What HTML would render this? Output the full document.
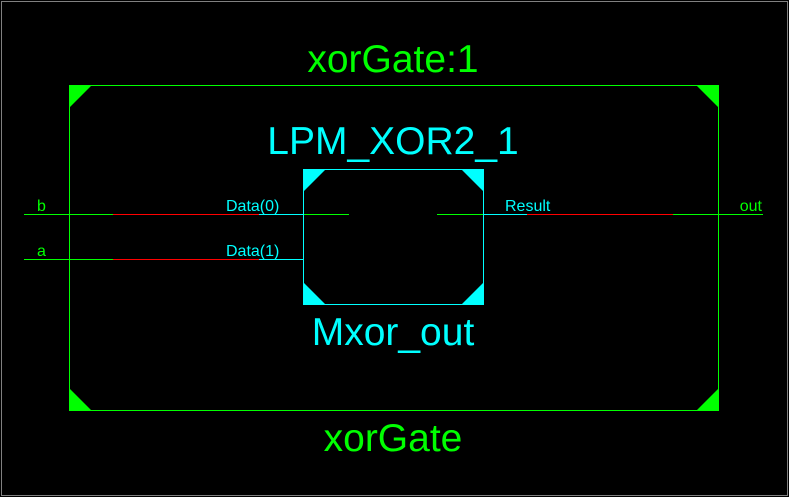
<!DOCTYPE html>
<html><head><meta charset="utf-8"><style>
html,body{margin:0;padding:0;background:#000;}
svg{display:block;}
text{font-family:"Liberation Sans",Arial,sans-serif;}
</style></head><body>
<svg width="789" height="497" viewBox="0 0 789 497" xmlns="http://www.w3.org/2000/svg">
<rect x="0" y="0" width="789" height="497" fill="#000"/>
<rect x="1.5" y="1.5" width="786" height="494" fill="none" stroke="#808080" stroke-width="1"/>
<rect x="69.5" y="85.5" width="649" height="325" fill="none" stroke="#00ff00" stroke-width="1"/>
<polygon points="69,85 92,85 69,108" fill="#00ff00"/>
<polygon points="719,85 696,85 719,108" fill="#00ff00"/>
<polygon points="69,411 92,411 69,388" fill="#00ff00"/>
<polygon points="719,411 696,411 719,388" fill="#00ff00"/>
<line x1="24" y1="214.5" x2="113" y2="214.5" stroke="#00ff00"/>
<line x1="113" y1="214.5" x2="259" y2="214.5" stroke="#ff0000"/>
<line x1="259" y1="214.5" x2="303" y2="214.5" stroke="#00ffff"/>
<line x1="303" y1="214.5" x2="349" y2="214.5" stroke="#00ff00"/>
<line x1="24" y1="259.5" x2="113" y2="259.5" stroke="#00ff00"/>
<line x1="113" y1="259.5" x2="259" y2="259.5" stroke="#ff0000"/>
<line x1="259" y1="259.5" x2="303" y2="259.5" stroke="#00ffff"/>
<line x1="437" y1="214.5" x2="483" y2="214.5" stroke="#00ff00"/>
<line x1="483" y1="214.5" x2="527" y2="214.5" stroke="#00ffff"/>
<line x1="527" y1="214.5" x2="673" y2="214.5" stroke="#ff0000"/>
<line x1="673" y1="214.5" x2="763" y2="214.5" stroke="#00ff00"/>
<rect x="303.5" y="169.5" width="180" height="135" fill="none" stroke="#00ffff" stroke-width="1"/>
<polygon points="303,169 326,169 303,192" fill="#00ffff"/>
<polygon points="484,169 461,169 484,192" fill="#00ffff"/>
<polygon points="303,305 326,305 303,282" fill="#00ffff"/>
<polygon points="484,305 461,305 484,282" fill="#00ffff"/>
<text x="393" y="72" font-size="39" fill="#00ff00" text-anchor="middle">xorGate:1</text>
<text x="393" y="154" font-size="39" fill="#00ffff" text-anchor="middle">LPM_XOR2_1</text>
<text x="393" y="345" font-size="39" fill="#00ffff" text-anchor="middle">Mxor_out</text>
<text x="393" y="451" font-size="39" fill="#00ff00" text-anchor="middle">xorGate</text>
<text x="37" y="211" font-size="16" fill="#00ff00">b</text>
<text x="37" y="256" font-size="16" fill="#00ff00">a</text>
<text x="226" y="211" font-size="16" fill="#00ffff">Data(0)</text>
<text x="226" y="256" font-size="16" fill="#00ffff">Data(1)</text>
<text x="505" y="211" font-size="16" fill="#00ffff">Result</text>
<text x="762" y="211" font-size="16" fill="#00ff00" text-anchor="end">out</text>
</svg>
</body></html>
